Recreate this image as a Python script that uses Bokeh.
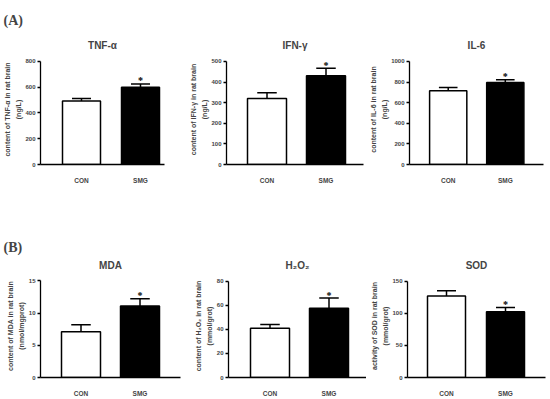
from bokeh.plotting import figure
from bokeh.layouts import column, row
from bokeh.models import Range1d, FixedTicker, Title
from bokeh.embed import file_html
from bokeh.resources import INLINE

# ---------------- data ----------------
groups = ["CON", "SMG"]
positions = [1, 2]
fills = ["white", "black"]
signif = ["", "*"]

tnf_mean = [492, 600]
tnf_err = [20, 25]
ifn_mean = [320, 430]
ifn_err = [28, 37]
il6_mean = [715, 795]
il6_err = [32, 27]
mda_mean = [7.1, 11.1]
mda_err = [1.1, 1.15]
h2o2_mean = [41, 57.5]
h2o2_err = [3.1, 8.5]
sod_mean = [127, 102.5]
sod_err = [8, 6.5]

titles = ["TNF-α", "IFN-γ", "IL-6", "MDA", "H₂O₂", "SOD"]
ylabel1 = ["content of TNF-α in rat brain", "content of IFN-γ in rat brain",
           "content of IL-6 in rat brain", "content of MDA in rat brain",
           "content of H₂O₂ in rat brain", "activity of SOD in rat brain"]
ylabel2 = ["(ng/L)", "(ng/L)", "(ng/L)", "(nmol/mgprot)", "(mmol/grot)", "(mmol/grot)"]
y_max = [800, 500, 1000, 15, 80, 150]
y_step = [200, 100, 200, 5, 20, 50]
means = [tnf_mean, ifn_mean, il6_mean, mda_mean, h2o2_mean, sod_mean]
errs = [tnf_err, ifn_err, il6_err, mda_err, h2o2_err, sod_err]
tags = ["(A)", None, None, "(B)", None, None]

# ---------------- layout (page pixels) ----------------
# fig_x, fig_w, row_y, row_h, ax_l, ax_r, b1l, b1r, b2l, b2r, y0, ytop, tag_left, tag_standoff
geo = [
    (0, 186, 0, 200, 40, 164, 62, 100, 121, 159, 164, 59, 3, 13),
    (186, 180, 0, 200, 226, 363, 247, 286, 306, 345, 165, 61, None, 0),
    (366, 184, 0, 200, 408, 543, 428, 466, 486, 523, 164, 60, None, 0),
    (0, 186, 200, 199, 40, 180, 61, 100, 120, 159, 381, 276, 3, 0),
    (186, 180, 200, 199, 228, 366, 250, 289, 309, 348, 381, 281, None, 0),
    (366, 184, 200, 199, 407, 545, 427, 465, 486, 524, 379, 279, None, 0),
]

FONT = "Liberation Sans"
EXT = 7  # extra frame pixels above the axis top (room for asterisks)


def make_panel(i):
    (fx, fw, ry, rh, ax_l, ax_r, b1l, b1r, b2l, b2r, y0, ytop,
     tag_left, tag_so) = geo[i]
    ymax, step = y_max[i], y_step[i]
    c1 = (b1l + b1r) / 2
    c2 = (b2l + b2r) / 2
    unit = c2 - c1
    bw = ((b1r - b1l) + (b2r - b2l)) / 2 / unit
    pxper = (y0 - ytop) / ymax

    def xd(px):
        return 1 + (px - c1) / unit

    def yd(py):
        return (y0 - py) / pxper

    p = figure(width=fw, height=rh, output_backend="svg", toolbar_location=None,
               title_location=None,
               x_range=Range1d(xd(ax_l), xd(ax_r)),
               y_range=Range1d(0, yd(ytop - EXT)),
               min_border=0,
               min_border_left=ax_l - fx, min_border_right=fx + fw - ax_r,
               min_border_top=ytop - EXT - ry, min_border_bottom=ry + rh - y0)
    p.outline_line_color = None
    p.grid.visible = False
    p.background_fill_color = "white"
    p.border_fill_color = "white"

    m = means[i]
    e = errs[i]
    tops = [m[k] + e[k] for k in range(2)]
    cw = bw / 2
    # error bars (upper only, GraphPad style)
    p.segment(x0=positions, y0=m, x1=positions, y1=tops, line_color="black", line_width=1.5)
    p.segment(x0=[x - cw / 2 for x in positions], y0=tops,
              x1=[x + cw / 2 for x in positions], y1=tops,
              line_color="black", line_width=1.5)
    p.vbar(x=positions, top=m, width=bw, bottom=0, fill_color=fills,
           line_color="black", line_width=1.5)
    p.text(x=positions, y=tops, text=signif, text_font=FONT, text_font_style="bold",
           text_font_size="10px", text_align="center", text_baseline="alphabetic",
           y_offset=-3)

    # y axis
    ya = p.yaxis[0]
    ya.ticker = FixedTicker(ticks=list(range(0, int(ymax) + 1, int(step))))
    ya.bounds = (0, ymax)
    ya.major_tick_out = 3
    ya.major_tick_in = 0
    ya.minor_tick_line_color = None
    ya.axis_line_width = 1.3
    ya.major_tick_line_width = 1.3
    ya.major_label_text_font = FONT
    ya.major_label_text_font_style = "bold"
    ya.major_label_text_font_size = "6px"
    ya.major_label_standoff = 2

    # x axis
    xa = p.xaxis[0]
    xa.ticker = FixedTicker(ticks=positions)
    xa.major_label_overrides = {positions[k]: groups[k] for k in range(2)}
    xa.major_tick_line_color = None
    xa.minor_tick_line_color = None
    xa.axis_line_width = 1.3
    xa.major_label_text_font = FONT
    xa.major_label_text_font_style = "bold"
    xa.major_label_text_font_size = "6.5px"
    xa.major_label_standoff = 6

    # y axis label: two lines, as side titles (inner line first)
    for txt in (ylabel2[i], ylabel1[i]):
        p.add_layout(Title(text=txt, align="center", text_font=FONT,
                           text_font_style="bold", text_font_size="7px",
                           standoff=2, offset=-EXT / 2), "left")

    # chart title, centred over the two bars
    frame_c = (ax_l + ax_r) / 2
    p.add_layout(Title(text=titles[i], align="center", text_font=FONT,
                       text_font_style="bold", text_font_size="10px",
                       standoff=7, offset=(c1 + c2) / 2 - frame_c), "above")
    if tags[i]:
        p.add_layout(Title(text=tags[i], align="left", text_font="Liberation Serif",
                           text_font_style="bold", text_font_size="14px",
                           standoff=tag_so, offset=tag_left - ax_l), "above")
    return p


panels = [make_panel(i) for i in range(6)]
layout = column(row(*panels[:3]), row(*panels[3:]))
open("out.html", "w").write(file_html(layout, INLINE))
